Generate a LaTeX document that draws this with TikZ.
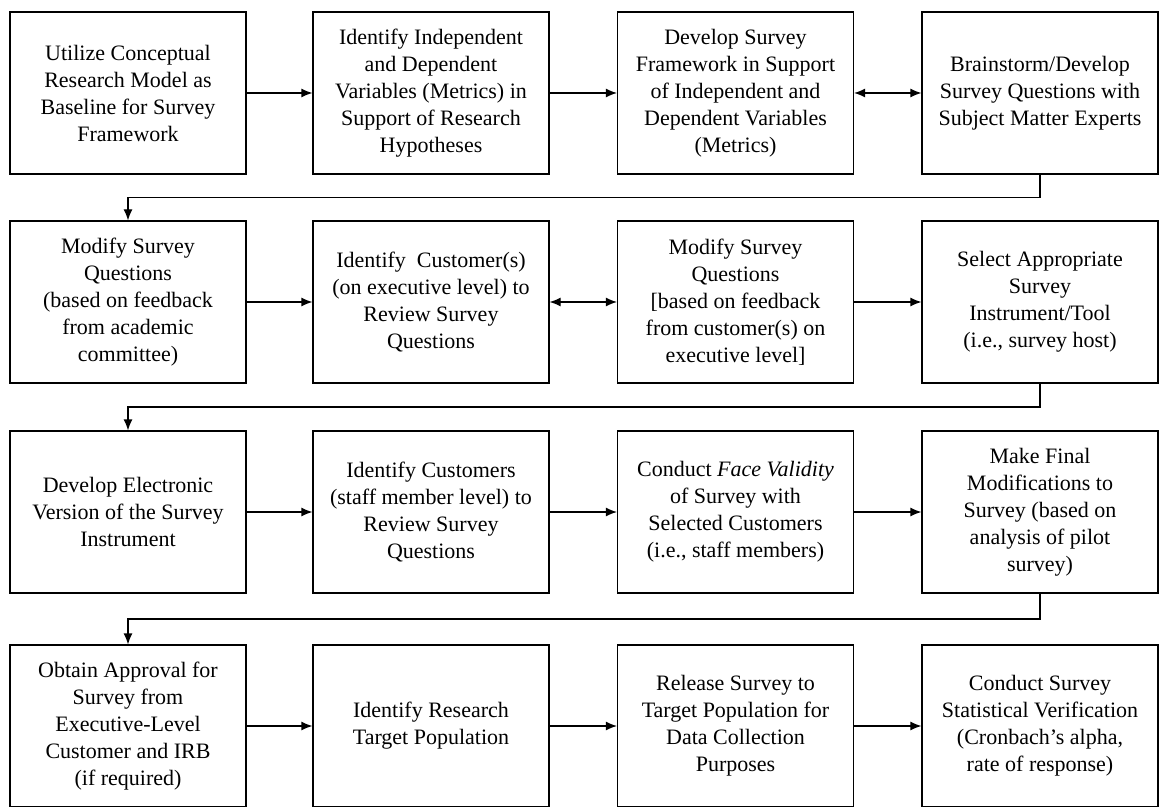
\documentclass[tikz,border=0pt]{standalone}
\usepackage{fontspec}
\setmainfont{Liberation Serif}
\usetikzlibrary{calc,arrows.meta}

\tikzset{
  stepbox/.style={draw, line width=0.6pt, align=center, inner sep=2pt,
    minimum width=118pt, minimum height=81pt,
    font=\fontsize{11}{13.5}\selectfont},
  flow/.style={line width=0.6pt, -{Latex[length=5.5pt,width=4.5pt]}},
  twoway/.style={line width=0.6pt, {Latex[length=5.5pt,width=4.5pt]}-{Latex[length=5.5pt,width=4.5pt]}}
}

\begin{document}
\begin{tikzpicture}[x=0.5pt, y=-0.5pt]

\useasboundingbox (0,0) rectangle (1160,807);

% column and row centres
\pgfmathsetmacro\colA{128}
\pgfmathsetmacro\colB{431}
\pgfmathsetmacro\colC{735.5}
\pgfmathsetmacro\colD{1040}
\pgfmathsetmacro\rowA{93}
\pgfmathsetmacro\rowB{302}
\pgfmathsetmacro\rowC{512}
\pgfmathsetmacro\rowD{726}

% row 1
\node[stepbox] (s1) at (\colA,\rowA) {Utilize Conceptual\\Research Model as\\Baseline for Survey\\Framework};
\node[stepbox] (s2) at (\colB,\rowA) {Identify Independent\\and Dependent\\Variables (Metrics) in\\Support of Research\\Hypotheses};
\node[stepbox] (s3) at (\colC,\rowA) {Develop Survey\\Framework in Support\\of Independent and\\Dependent Variables\\(Metrics)};
\node[stepbox] (s4) at (\colD,\rowA) {Brainstorm/Develop\\Survey Questions with\\Subject Matter Experts};

% row 2
\node[stepbox] (s5) at (\colA,\rowB) {Modify Survey\\Questions\\(based on feedback\\from academic\\committee)};
\node[stepbox] (s6) at (\colB,\rowB) {Identify~ Customer(s)\\(on executive level) to\\Review Survey\\Questions};
\node[stepbox] (s7) at (\colC,\rowB) {Modify Survey\\Questions\\{[based on feedback}\\from customer(s) on\\executive level]};
\node[stepbox] (s8) at (\colD,\rowB) {Select Appropriate\\Survey\\Instrument/Tool\\(i.e., survey host)};

% row 3
\node[stepbox] (s9) at (\colA,\rowC) {Develop Electronic\\Version of the Survey\\Instrument};
\node[stepbox] (s10) at (\colB,\rowC) {Identify Customers\\(staff member level) to\\Review Survey\\Questions};
\node[stepbox] (s11) at (\colC,\rowC) {Conduct \textit{Face Validity}\\of Survey with\\Selected Customers\\(i.e., staff members)};
\node[stepbox] (s12) at (\colD,\rowC) {Make Final\\Modifications to\\Survey (based on\\analysis of pilot\\survey)};

% row 4
\node[stepbox] (s13) at (\colA,\rowD) {Obtain Approval for\\Survey from\\Executive-Level\\Customer and IRB\\(if required)};
\node[stepbox] (s14) at (\colB,\rowD) {Identify Research\\Target Population};
\node[stepbox] (s15) at (\colC,\rowD) {Release Survey to\\Target Population for\\Data Collection\\Purposes};
\node[stepbox] (s16) at (\colD,\rowD) {Conduct Survey\\Statistical Verification\\(Cronbach's alpha,\\rate of response)};

% arrows within a row
\foreach \from/\to in {s1/s2, s2/s3, s5/s6, s7/s8, s9/s10, s10/s11, s11/s12, s13/s14, s14/s15, s15/s16}
    \draw[flow] (\from) -- (\to);
\foreach \from/\to in {s3/s4, s6/s7}
    \draw[twoway] (\from) -- (\to);

% arrows from one row to the next
\foreach \from/\to in {s4/s5, s8/s9, s12/s13}
    \draw[flow] (\from.south) |- ($(\from.south)!.5!(\to.north)$) -| (\to.north);

\end{tikzpicture}
\end{document}
